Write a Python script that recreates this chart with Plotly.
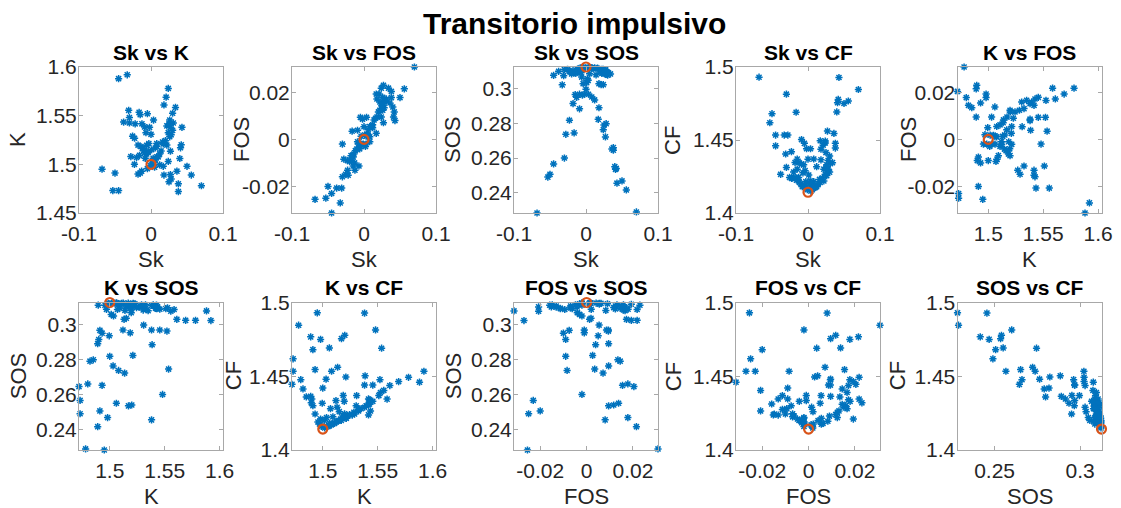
import plotly.graph_objects as go

# ---- data (one entry per simulated case) ----
sk = [0.070, -0.068, 0.056, 0.043, 0.050, -0.053, -0.050, -0.045, -0.033, -0.045,
      0.038, 0.038, 0.025, 0.028, 0.018, -0.018, -0.015, -0.013, 0.036, -0.023,
      0.024, 0.012, 0.005, 0.040, 0.041, 0.042, -0.030, -0.0165, -0.028, 0.027,
      0.017, -0.009, -0.009, 0.008, 0.000, -0.002, 0.0035, -0.005, 0.018, 0.021,
      0.024, 0.034, 0.030, -0.031, -0.038, -0.015, -0.030, -0.022, -0.0126, -0.007,
      -0.0256, -0.0228, 0.010, 0.012, 0.014, 0.022, 0.016, 0.020, 0.026, 0.028,
      0.024, 0.030, 0.027, 0.022, 0.025, 0.031, 0.026, 0.008, 0.006, 0.027,
      0.017, -0.004, 0.001, 0.002, 0.003, -0.006, -0.016, -0.006, -0.004, -0.010,
      -0.012, -0.014, -0.018, -0.003, -0.020, -0.005, -0.001, 0.004, 0.006, 0.003,
      0.008, -0.008]
kurt = [1.478, 1.495, 1.489, 1.538, 1.498, 1.473, 1.491, 1.588, 1.592, 1.473,
        1.472, 1.480, 1.482, 1.485, 1.489, 1.490, 1.491, 1.493, 1.493, 1.500,
        1.503, 1.4995, 1.497, 1.506, 1.517, 1.520, 1.548, 1.5535, 1.508, 1.5135,
        1.521, 1.5385, 1.512, 1.5186, 1.5308, 1.538, 1.5455, 1.552, 1.561, 1.569,
        1.578, 1.5585, 1.5525, 1.5555, 1.5434, 1.551, 1.5425, 1.5416, 1.5416, 1.5325,
        1.5289, 1.5268, 1.5077, 1.5107, 1.5138, 1.5198, 1.5228, 1.5243, 1.5283, 1.5304,
        1.5325, 1.5349, 1.5380, 1.5395, 1.5416, 1.5425, 1.5455, 1.5213, 1.5168, 1.4895,
        1.498, 1.513, 1.515, 1.5013, 1.5034, 1.5195, 1.5092, 1.5107, 1.5122, 1.5147,
        1.5162, 1.5183, 1.5198, 1.5213, 1.507, 1.4956, 1.4986, 1.5017, 1.5047, 1.5062,
        1.5077, 1.5062]
fos = [0.0308, -0.0255, 0.0215, 0.0080, 0.0178, -0.0250, -0.0200, -0.0313, -0.0270, -0.0230,
       0.0204, 0.0178, 0.0145, 0.0135, 0.0095, -0.0090, -0.0075, -0.0100, 0.0155, -0.0090,
       0.0095, 0.0050, 0.0020, 0.0138, 0.0095, 0.0117, -0.0020, 0.0035, -0.0084, 0.0071,
       0.0026, 0.0039, -0.0010, -0.0010, 0.0054, 0.0086, 0.0094, 0.0094, 0.0172, 0.0193,
       0.0218, 0.0218, 0.0166, -0.0207, -0.0207, -0.0113, -0.0159, -0.0152, -0.0131, -0.0113,
       -0.0148, -0.0131, 0.0055, 0.0062, 0.0083, 0.0124, 0.0090, 0.0117, 0.0124, 0.0159,
       0.0131, 0.0166, 0.0152, 0.0159, 0.0145, 0.0172, 0.0179, 0.0055, 0.0041, 0.0230,
       0.0193, 0.0013, 0.0019, -0.0030, -0.0020, -0.0040, -0.0069, -0.0030, -0.0021, -0.0041,
       -0.0048, -0.0062, -0.0069, -0.0021, -0.0094, -0.0020, -0.0020, 0.0018, 0.0017, 0.0014,
       0.0011, -0.0020]
sos = [0.2289, 0.2283, 0.2416, 0.2455, 0.2468, 0.2490, 0.2506, 0.3077, 0.3022, 0.2566,
       0.2645, 0.2660, 0.2790, 0.2798, 0.2890, 0.2914, 0.2966, 0.2950, 0.2652, 0.2818,
       0.2763, 0.2935, 0.3086, 0.2550, 0.2535, 0.2540, 0.2600, 0.2745, 0.2737, 0.2722,
       0.2823, 0.2884, 0.2968, 0.2952, 0.2996, 0.2968, 0.2968, 0.2962, 0.3029, 0.3023,
       0.3023, 0.3085, 0.3095, 0.3075, 0.3100, 0.3090, 0.3110, 0.3100, 0.3105, 0.3092,
       0.3112, 0.3098, 0.3115, 0.3120, 0.3080, 0.3088, 0.3118, 0.3096, 0.3105, 0.3082,
       0.3112, 0.3078, 0.3108, 0.3112, 0.3092, 0.3090, 0.3087, 0.3120, 0.3122, 0.3110,
       0.3115, 0.3029, 0.3035, 0.3057, 0.3048, 0.3067, 0.3094, 0.3118, 0.3122, 0.3100,
       0.3112, 0.3090, 0.3105, 0.3118, 0.3085, 0.3110, 0.3120, 0.3122, 0.3121, 0.3123,
       0.3118, 0.3120]
cf = [1.4846, 1.4930, 1.4767, 1.4928, 1.4750, 1.4618, 1.4680, 1.4460, 1.4534, 1.4534,
      1.4445, 1.4477, 1.4414, 1.4360, 1.4364, 1.4346, 1.4300, 1.4244, 1.4545, 1.4420,
      1.4480, 1.4317, 1.4176, 1.4692, 1.4755, 1.4778, 1.4814, 1.4690, 1.4534, 1.4561,
      1.4495, 1.4503, 1.4335, 1.4370, 1.4369, 1.4440, 1.4440, 1.4477, 1.4437, 1.4464,
      1.4493, 1.4345, 1.4390, 1.4404, 1.4265, 1.4369, 1.4312, 1.4238, 1.4346, 1.4275,
      1.4244, 1.4237, 1.4175, 1.4180, 1.4195, 1.4220, 1.4230, 1.4240, 1.4256, 1.4300,
      1.4265, 1.4280, 1.4290, 1.4300, 1.4310, 1.4340, 1.4330, 1.4215, 1.4200, 1.4320,
      1.4210, 1.4290, 1.4260, 1.4200, 1.4220, 1.4330, 1.4225, 1.4185, 1.4190, 1.4200,
      1.4210, 1.4230, 1.4245, 1.4215, 1.4280, 1.4190, 1.4160, 1.4150, 1.4160, 1.4165,
      1.4170, 1.4180]

# nominal (reference) case
nom = {"Sk": [0.0], "K": [1.5], "FOS": [0.0], "SOS": [0.3125], "CF": [1.4142]}

data = {"Sk": sk, "K": kurt, "FOS": fos, "SOS": sos, "CF": cf}

panels = [("Sk", "K"), ("Sk", "FOS"), ("Sk", "SOS"), ("Sk", "CF"), ("K", "FOS"),
          ("K", "SOS"), ("K", "CF"), ("FOS", "SOS"), ("FOS", "CF"), ("SOS", "CF")]

main_title = "Transitorio impulsivo"

# axis settings: (range, tickvals, ticktext)
ax_x = {
    "Sk": ([-0.1, 0.1], [-0.1, 0, 0.1], ["-0.1", "0", "0.1"]),
    "K": ([1.472, 1.603], [1.5, 1.55, 1.6], ["1.5", "1.55", "1.6"]),
    "FOS": ([-0.0313, 0.0308], [-0.02, 0, 0.02], ["-0.02", "0", "0.02"]),
    "SOS": ([0.2283, 0.3125], [0.25, 0.3], ["0.25", "0.3"]),
}
ax_y = {
    "K": ([1.45, 1.6], [1.45, 1.5, 1.55, 1.6], ["1.45", "1.5", "1.55", "1.6"]),
    "FOS": ([-0.0313, 0.0308], [-0.02, 0, 0.02], ["-0.02", "0", "0.02"]),
    "SOS": ([0.2283, 0.3125], [0.24, 0.26, 0.28, 0.3], ["0.24", "0.26", "0.28", "0.3"]),
    "CF": ([1.4, 1.5], [1.4, 1.45, 1.5], ["1.4", "1.45", "1.5"]),
}

W, H = 1121, 508
col_left = [79, 292, 514, 736, 957.5]
ax_w = 144
row_px = [(67, 213), (302.5, 450)]
# horizontal centre of the rotated y-axis titles, per row and column
ytitle_x = [[18, 242, 453, 673, 909], [18, 233, 453, 673, 897]]

FONT = "Liberation Sans, Arial, Helvetica, sans-serif"
BLUE = "#0072BD"
RED = "#D95319"
LINE = "#a8a8a8"
TXT = "#262626"

fig = go.Figure()
layout = dict(
    width=W, height=H, margin=dict(l=0, r=0, t=0, b=0),
    paper_bgcolor="white", plot_bgcolor="white", showlegend=False,
    font=dict(family=FONT, color=TXT, size=21),
)
annotations = []

for i, (xv, yv) in enumerate(panels):
    r, c = divmod(i, 5)
    n = i + 1
    xa = "x" if n == 1 else f"x{n}"
    ya = "y" if n == 1 else f"y{n}"
    fig.add_trace(go.Scatter(
        x=data[xv], y=data[yv], mode="markers", xaxis=xa, yaxis=ya,
        cliponaxis=False,
        marker=dict(symbol="asterisk-open", size=6, color=BLUE,
                    line=dict(color=BLUE, width=1.5)),
        hoverinfo="skip"))
    fig.add_trace(go.Scatter(
        x=nom[xv], y=nom[yv], mode="markers", xaxis=xa, yaxis=ya,
        cliponaxis=False,
        marker=dict(symbol="circle-open", size=9, color=RED,
                    line=dict(color=RED, width=2.2)),
        hoverinfo="skip"))
    x0 = col_left[c] / W
    x1 = (col_left[c] + ax_w) / W
    top, bot = row_px[r]
    y0 = 1 - bot / H
    y1 = 1 - top / H
    xr, xtv, xtt = ax_x[xv]
    yr, ytv, ytt = ax_y[yv]
    common = dict(showgrid=False, zeroline=False, showline=True, linecolor=LINE,
                  linewidth=1, mirror="ticks", ticks="inside", ticklen=4,
                  tickcolor=LINE, tickwidth=1, automargin=False,
                  tickfont=dict(family=FONT, size=21, color=TXT))
    layout["xaxis" if n == 1 else f"xaxis{n}"] = dict(
        common, domain=[x0, x1], range=xr, tickvals=xtv, ticktext=xtt,
        anchor=ya, ticklabelstandoff=2)
    layout["yaxis" if n == 1 else f"yaxis{n}"] = dict(
        common, domain=[y0, y1], range=yr, tickvals=ytv, ticktext=ytt,
        anchor=xa, ticklabelstandoff=-3)
    # subplot title
    annotations.append(dict(
        text=f"<b>{xv} vs {yv}</b>", xref="paper", yref="paper",
        x=(x0 + x1) / 2, y=1 - (top - 15) / H, xanchor="center", yanchor="middle",
        showarrow=False, font=dict(family=FONT, size=21, color="black")))
    # x-axis title
    annotations.append(dict(
        text=xv, xref="paper", yref="paper",
        x=(x0 + x1) / 2, y=1 - (bot + 46) / H, xanchor="center", yanchor="middle",
        showarrow=False, font=dict(family=FONT, size=22, color=TXT)))
    # y-axis title
    annotations.append(dict(
        text=yv, xref="paper", yref="paper", textangle=-90,
        x=ytitle_x[r][c] / W, y=1 - (top + bot) / 2 / H,
        xanchor="center", yanchor="middle",
        showarrow=False, font=dict(family=FONT, size=22, color=TXT)))

annotations.append(dict(
    text=f"<b>{main_title}</b>", xref="paper", yref="paper",
    x=575 / W, y=1 - 23 / H, xanchor="center", yanchor="middle",
    showarrow=False, font=dict(family=FONT, size=30, color="black")))

layout["annotations"] = annotations
fig.update_layout(**layout)
fig.write_html(
    "out.html",
    config={"displayModeBar": False, "staticPlot": True},
    post_script="document.body.style.margin='0';document.body.style.padding='0';"
                "document.body.style.overflow='hidden';")
